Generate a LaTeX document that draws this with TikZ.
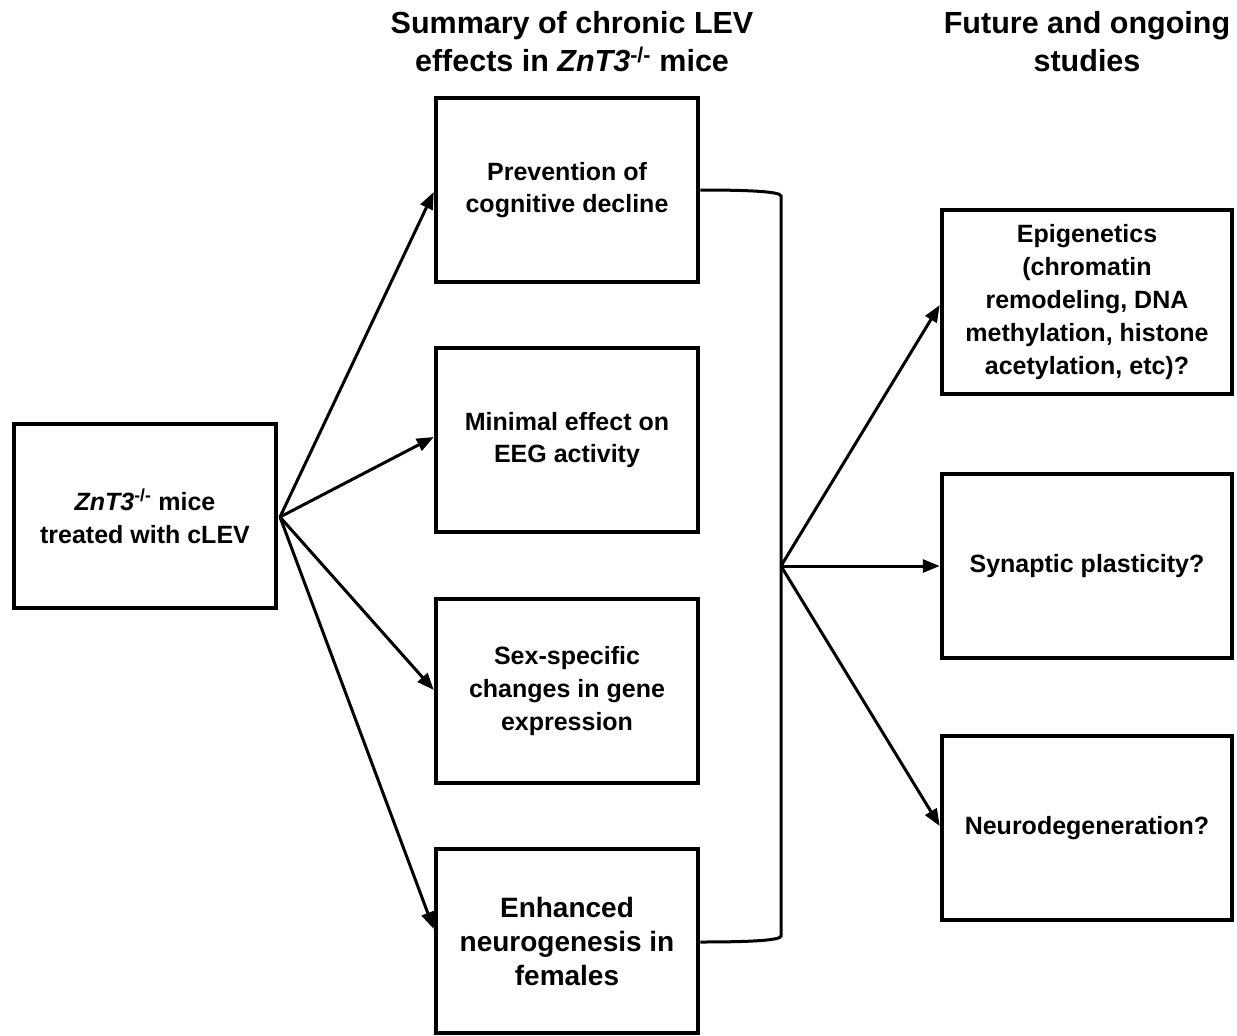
\documentclass[tikz,border=0pt]{standalone}
\usepackage{fontspec}
\setmainfont{Liberation Sans}
\usetikzlibrary{arrows.meta}
\begin{document}
\begin{tikzpicture}[x=1pt,y=-1pt,
  box/.style={draw,line width=4.5pt,inner sep=0pt,align=center,font=\fontsize{25}{32.8}\selectfont\bfseries},
  head/.style={align=center,font=\fontsize{30.5}{38}\selectfont\bfseries},
  arr/.style={line width=3pt,-{Triangle[length=17pt,width=13pt]}},
  ln/.style={line width=3pt}]
\useasboundingbox (0,0) rectangle (1237,1036);
\node[head] (h1) at (572,42) {Summary of chronic LEV\\effects in \textit{ZnT3}\textsuperscript{-/-} mice};
\node[head] (h2) at (1087,42) {Future and ongoing\\studies};
\node[box,minimum width=262pt,minimum height=184pt] (L) at (145,516) {\textit{ZnT3}\textsuperscript{-/-} mice\\treated with cLEV};
\node[box,minimum width=262pt,minimum height=184pt] (m1) at (567,190) {Prevention of\\cognitive decline};
\node[box,minimum width=262pt,minimum height=184pt] (m2) at (567,440) {Minimal effect on\\EEG activity};
\node[box,minimum width=262pt,minimum height=184pt] (m3) at (567,691) {Sex-specific\\changes in gene\\expression};
\node[box,minimum width=262pt,minimum height=184pt,font=\fontsize{28}{34}\selectfont\bfseries] (m4) at (567,941) {Enhanced\\neurogenesis in\\females};
\node[box,minimum width=290pt,minimum height=184pt] (r1) at (1087,302) {Epigenetics\\(chromatin\\remodeling, DNA\\methylation, histone\\acetylation, etc)?};
\node[box,minimum width=290pt,minimum height=184pt] (r2) at (1087,566) {Synaptic plasticity?};
\node[box,minimum width=290pt,minimum height=184pt] (r3) at (1087,828) {Neurodegeneration?};
\coordinate (src) at (280,517);
\coordinate (hub) at (781,566);
\coordinate (bt) at (781,196);
\coordinate (bb) at (781,936);
\draw[arr] (src) -- (m1.west |- 0,192);
\draw[arr] (src) -- (m2.west |- 0,437);
\draw[arr] (src) -- (m3.west |- 0,690);
\draw[arr] (src) -- (m4.west |- 0,929);
\draw[ln] (m1.east |- 0,190) .. controls (740,190) and (781,191) .. (bt) -- (bb) .. controls (781,941) and (740,942) .. (m4.east |- 0,942);
\draw[arr] (hub) -- (r1.west |- 0,305);
\draw[arr] (hub) -- (r2.west |- 0,566);
\draw[arr] (hub) -- (r3.west |- 0,826);
\end{tikzpicture}
\end{document}
